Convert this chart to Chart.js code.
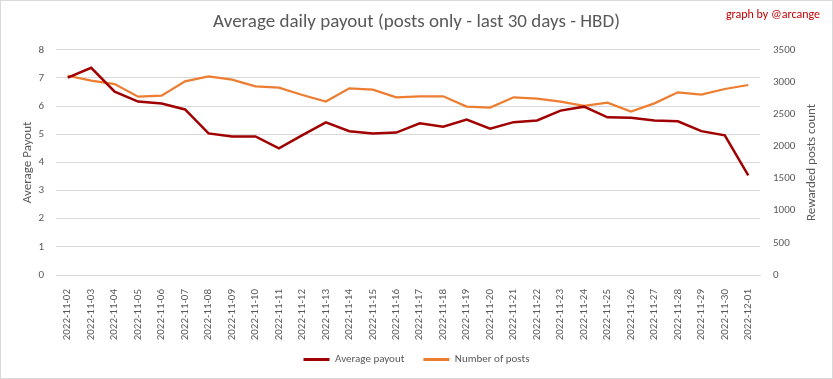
<!DOCTYPE html>
<html>
<head>
<meta charset="utf-8">
<script src="https://cdn.jsdelivr.net/npm/chart.js@4"></script>
<style>
  html, body { margin: 0; padding: 0; background: #fff; }
  #wrap { width: 833px; height: 379px; }
</style>
</head>
<body>
<div id="wrap"><canvas id="payoutChart" width="833" height="379"></canvas></div>
<script>
// Average daily payout - last 30 days
const days = [
  "2022-11-02", "2022-11-03", "2022-11-04", "2022-11-05", "2022-11-06",
  "2022-11-07", "2022-11-08", "2022-11-09", "2022-11-10", "2022-11-11",
  "2022-11-12", "2022-11-13", "2022-11-14", "2022-11-15", "2022-11-16",
  "2022-11-17", "2022-11-18", "2022-11-19", "2022-11-20", "2022-11-21",
  "2022-11-22", "2022-11-23", "2022-11-24", "2022-11-25", "2022-11-26",
  "2022-11-27", "2022-11-28", "2022-11-29", "2022-11-30", "2022-12-01",
];
const avgPayout = [
  7.01, 7.36, 6.51, 6.16, 6.09, 5.88, 5.03, 4.92, 4.92, 4.50,
  4.97, 5.42, 5.11, 5.03, 5.06, 5.39, 5.27, 5.52, 5.20, 5.43,
  5.49, 5.84, 5.98, 5.60, 5.59, 5.49, 5.46, 5.11, 4.96, 3.54,
];
const postCount = [
  3097, 3020, 2968, 2772, 2788, 3009, 3087, 3035, 2932, 2912,
  2798, 2695, 2901, 2881, 2762, 2777, 2777, 2617, 2602, 2762,
  2741, 2695, 2628, 2679, 2540, 2668, 2839, 2803, 2891, 2953,
];

const FONT = "Carlito, Lato, 'Open Sans', sans-serif";
const GREY = "#595959";
const GRID = "#d9d9d9";

// extra texts + outer border, like the Excel chart frame
const decorations = {
  id: "decorations",
  afterLayout(chart) {
    // let the rotated date labels run past the (short) x scale box
    chart.scales.x.bottom = chart.height;
  },
  afterDraw(chart) {
    const ctx = chart.ctx;
    const area = chart.chartArea;
    ctx.save();
    ctx.strokeStyle = GRID;
    ctx.lineWidth = 1;
    ctx.strokeRect(0.5, 0.5, chart.width - 1, chart.height - 1);

    ctx.fillStyle = "#c00000";
    ctx.font = "12px " + FONT;
    ctx.textAlign = "right";
    ctx.textBaseline = "middle";
    ctx.fillText("graph by @arcange", 820, 15);

    ctx.translate(812, (area.top + area.bottom) / 2);
    ctx.rotate(-Math.PI / 2);
    ctx.fillStyle = GREY;
    ctx.textAlign = "center";
    ctx.font = "13px " + FONT;
    ctx.fillText("Rewarded posts count", 0, 0);
    ctx.restore();
  },
};

const ctx = document.getElementById("payoutChart").getContext("2d");
const payoutChart = new Chart(ctx, {
  type: "line",
  data: {
    labels: days,
    datasets: [
      {
        label: "Average payout",
        data: avgPayout,
        yAxisID: "y",
        borderColor: "#a00000",
        backgroundColor: "#a00000",
        borderWidth: 2.5,
        pointRadius: 0,
        tension: 0,
        fill: false,
      },
      {
        label: "Number of posts",
        data: postCount,
        yAxisID: "y1",
        borderColor: "#ed7d31",
        backgroundColor: "#ed7d31",
        borderWidth: 2.25,
        pointRadius: 0,
        tension: 0,
        fill: false,
      },
    ],
  },
  options: {
    responsive: false,
    animation: false,
    layout: { padding: { bottom: 4 } },
    scales: {
      x: {
        offset: true,
        grid: { display: false },
        border: { color: GRID },
        ticks: {
          color: GREY,
          font: { family: FONT, size: 11 },
          minRotation: 90,
          maxRotation: 90,
          autoSkip: false,
          padding: 6,
        },
        afterFit: (scale) => { scale.height = 60; },
      },
      y: {
        position: "left",
        min: 0,
        max: 8,
        ticks: {
          stepSize: 1,
          color: GREY,
          font: { family: FONT, size: 11 },
          padding: 12,
        },
        grid: { color: GRID, drawTicks: false },
        border: { display: false },
        title: {
          display: true,
          text: "Average Payout",
          color: GREY,
          font: { family: FONT, size: 13 },
          padding: { top: 20, bottom: 0 },
        },
        afterFit: (scale) => { scale.width = 56; },
      },
      y1: {
        position: "right",
        min: 0,
        max: 3500,
        ticks: {
          stepSize: 500,
          color: GREY,
          font: { family: FONT, size: 11 },
          padding: 13,
          callback: (value) => String(value),
        },
        grid: { drawOnChartArea: false, drawTicks: false },
        border: { display: false },
        afterFit: (scale) => { scale.width = 73; },
      },
    },
    plugins: {
      title: {
        display: true,
        text: "Average daily payout (posts only - last 30 days - HBD)",
        color: GREY,
        font: { family: FONT, size: 19, weight: "normal" },
        padding: { top: 11, bottom: 16 },
      },
      legend: {
        position: "bottom",
        labels: {
          color: GREY,
          font: { family: FONT, size: 11 },
          boxWidth: 26,
          boxHeight: 3,
          padding: 19,
          generateLabels: (chart) =>
            Chart.defaults.plugins.legend.labels
              .generateLabels(chart)
              .map((item) => ({ ...item, lineWidth: 0 })),
        },
      },
      tooltip: { enabled: false },
    },
  },
  plugins: [decorations],
});
</script>
</body>
</html>
